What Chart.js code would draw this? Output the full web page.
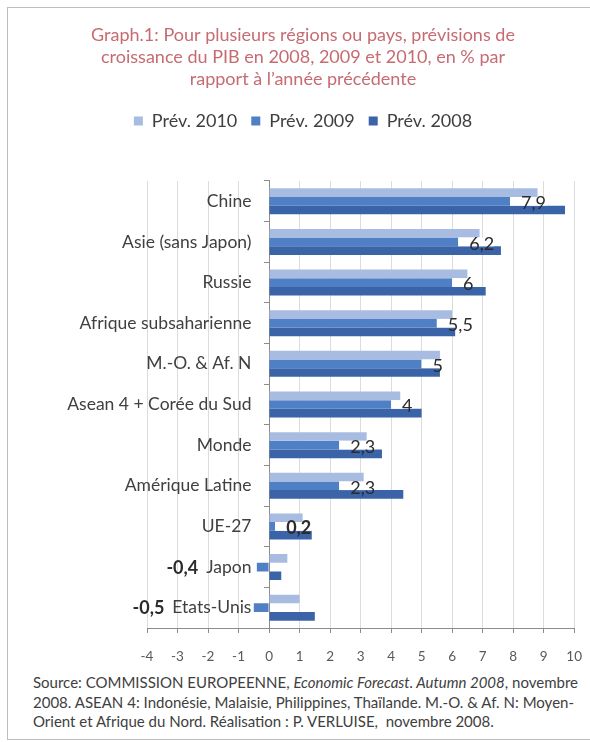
<!DOCTYPE html>
<html>
<head>
<meta charset="utf-8">
<script src="https://cdn.jsdelivr.net/npm/chart.js@4"></script>
<style>
  body { margin: 0; background: #fff; width: 590px; height: 742px; overflow: hidden; font-family: Lato, sans-serif; position: relative; }
  #frame { position: absolute; left: 7px; top: 7px; width: 620px; height: 731px; border: 1px solid #bdbdbd; }
  #wrap { position: absolute; left: 8px; top: 8px; width: 590px; height: 660px; }
  #note { position: absolute; left: 33px; top: 673px; width: 541px; font-size: 15px; line-height: 19.5px; color: #404040; white-space: nowrap; }
  .j { text-align: justify; text-align-last: justify; }
</style>
</head>
<body>
<div id="frame"></div>
<div id="wrap"><canvas id="growthChart"></canvas></div>
<div id="note">
  <div class="j">Source: COMMISSION EUROPEENNE, <i>Economic Forecast. Autumn 2008</i>, novembre</div>
  <div class="j">2008. ASEAN 4: Indonésie, Malaisie, Philippines, Thaïlande. M.-O. &amp; Af. N: Moyen-</div>
  <div>Orient et Afrique du Nord. Réalisation : P. VERLUISE, &nbsp;novembre 2008.</div>
</div>
<script>
const regions = ['Chine', 'Asie (sans Japon)', 'Russie', 'Afrique subsaharienne', 'M.-O. & Af. N',
  'Asean 4 + Corée du Sud', 'Monde', 'Amérique Latine', 'UE-27', 'Japon', 'Etats-Unis'];
const prev2010 = [8.8, 6.9, 6.5, 6.0, 5.6, 4.3, 3.2, 3.1, 1.1, 0.6, 1.0];
const prev2009 = [7.9, 6.2, 6, 5.5, 5, 4, 2.3, 2.3, 0.2, -0.4, -0.5];
const prev2008 = [9.7, 7.6, 7.1, 6.1, 5.6, 5.0, 3.7, 4.4, 1.4, 0.4, 1.5];
const xMin = -4;
const xMax = 10;

const nameSuffix = '\u2003 '; // keeps region names off the zero line
const labelFont = '17.5px Lato';

// fixed height for the legend block (room under it)
const legendSpacer = {
  id: 'legendSpacer',
  beforeInit(chart) {
    const fit = chart.legend.fit;
    chart.legend.fit = function () {
      fit.bind(chart.legend)();
      this.height = 83;
    };
  }
};

// labels of the 2009 series, white box like in Excel
const valueLabels = {
  id: 'valueLabels',
  afterDatasetsDraw(chart) {
    const ctx = chart.ctx;
    const meta = chart.getDatasetMeta(1);
    const x0 = chart.scales.x.getPixelForValue(0);
    ctx.save();
    ctx.textBaseline = 'middle';
    meta.data.forEach((bar, i) => {
      const v = prev2009[i];
      const txt = String(v).replace('.', ',');
      const bold = Math.abs(v) < 1;
      if (v >= 0) {
        ctx.font = (bold ? 'bold ' : '') + '18px Lato';
        const w = ctx.measureText(txt).width;
        ctx.fillStyle = '#fff';
        ctx.fillRect(bar.x, bar.y - bar.height / 2, 11 + w, bar.height);
        ctx.fillStyle = '#2b2b2b';
        ctx.textAlign = 'left';
        ctx.fillText(txt, bar.x + 11, bar.y + 2);
      } else {
        ctx.font = labelFont;
        const nameW = ctx.measureText(regions[i] + nameSuffix).width;
        ctx.font = 'bold 18px Lato';
        ctx.fillStyle = '#2b2b2b';
        ctx.textAlign = 'right';
        ctx.fillText(txt, x0 - nameW - 8, bar.y + 1);
      }
    });
    ctx.restore();
  }
};

const ctx = document.getElementById('growthChart').getContext('2d');
new Chart(ctx, {
  type: 'bar',
  data: {
    labels: regions,
    datasets: [
      { label: 'Prév. 2010', data: prev2010, backgroundColor: '#a8bce2' },
      { label: 'Prév. 2009', data: prev2009, backgroundColor: '#4f80c6' },
      { label: 'Prév. 2008', data: prev2008, backgroundColor: '#3b63a8' }
    ]
  },
  options: {
    indexAxis: 'y',
    responsive: true,
    maintainAspectRatio: false,
    animation: false,
    datasets: {
      bar: { categoryPercentage: 0.64, barPercentage: 1.0, borderWidth: 0 }
    },
    plugins: {
      title: {
        display: true,
        text: ['Graph.1: Pour plusieurs régions ou pays, prévisions de',
          'croissance du PIB en 2008, 2009 et 2010, en % par',
          'rapport à l’année précédente'],
        color: '#c76b72',
        font: { family: 'Lato', size: 18, weight: 'normal', lineHeight: 1.222 },
        padding: { top: 16, bottom: 8 }
      },
      legend: {
        labels: {
          font: { family: 'Lato', size: 18 },
          color: '#404040',
          boxWidth: 9,
          boxHeight: 9,
          padding: 14
        }
      },
      tooltip: { enabled: false }
    },
    scales: {
      x: {
        min: xMin,
        max: xMax,
        ticks: { stepSize: 1, color: '#595959', font: { family: 'Lato', size: 13.5 }, padding: 16 },
        grid: { color: '#dcdcdc', tickColor: '#8c8c8c', tickLength: 5 },
        border: { color: '#8c8c8c' },
        afterFit(scale) { scale.height = 40; }
      },
      y: {
        position: { x: 0 },
        ticks: {
          color: '#404040',
          font: { family: 'Lato', size: 17.5 },
          callback: (value, index) => regions[index] + nameSuffix
        },
        grid: { drawOnChartArea: false, tickColor: '#8c8c8c', tickLength: 5 },
        border: { color: '#8c8c8c' }
      },
      leftRoom: {
        type: 'linear',
        position: 'left',
        display: true,
        ticks: { display: false },
        grid: { display: false },
        border: { display: false },
        afterFit(scale) { scale.width = 139; }
      },
      rightRoom: {
        type: 'linear',
        position: 'right',
        display: true,
        ticks: { display: false },
        grid: { display: false },
        border: { display: false },
        afterFit(scale) { scale.width = 20; }
      }
    }
  },
  plugins: [legendSpacer, valueLabels]
});
</script>
</body>
</html>
